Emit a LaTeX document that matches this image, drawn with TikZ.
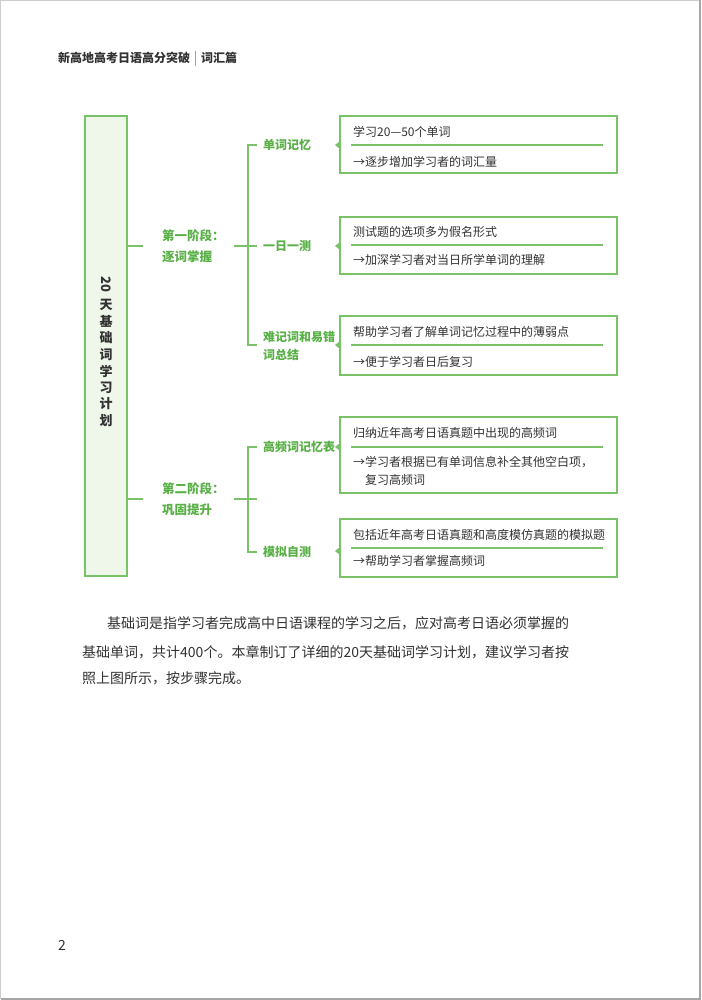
\documentclass[tikz,border=0pt]{standalone}
\usepackage{fontspec}
\setmainfont{Noto Sans CJK SC}
\definecolor{grn}{RGB}{122,194,104}
\definecolor{grntxt}{RGB}{88,176,70}
\definecolor{lightgrn}{RGB}{239,246,234}
\definecolor{txt}{RGB}{50,50,50}
\definecolor{hdr}{RGB}{50,50,50}
\newcommand\myspread[2]{{\XeTeXinterchartokenstate=1
  \XeTeXinterchartoks 0 1={\hskip0pt plus1pt}%
  \XeTeXinterchartoks 1 0={\hskip0pt plus1pt}%
  \XeTeXinterchartoks 1 1={\hskip0pt plus1pt}%
  \XeTeXinterchartoks 1 3={\hskip0pt plus1pt}%
  \XeTeXinterchartoks 3 1={\hskip0pt plus1pt}%
  \XeTeXinterchartoks 3 0={\hskip0pt plus1pt}%
  \XeTeXinterchartoks 0 3={\hskip0pt plus1pt}%
  \hbox to #1{#2}}}
\tikzset{
  conn/.style={draw=grn, line width=1.1pt},
  boxed/.style={draw=grn, line width=1.2pt, minimum width=277pt, inner sep=0pt},
  boxtext/.style={anchor=west, inner sep=0pt, text=txt, font=\fontsize{12}{14}\selectfont},
  leaf/.style={anchor=west, inner sep=0pt, text=grntxt, align=left, font=\bfseries\fontsize{12}{18}\selectfont},
  stage/.style={anchor=west, inner sep=0pt, text=grntxt, align=left, font=\bfseries\fontsize{12.5}{21}\selectfont},
  vchar/.style={inner sep=0pt, text=txt, font=\bfseries\fontsize{13}{13}\selectfont},
  body/.style={anchor=west, inner sep=0pt, text=txt, font=\fontsize{14}{14}\selectfont},
  tri/.style={fill=grn}
}
\begin{document}
\begin{tikzpicture}[x=1pt,y=-1pt]
\useasboundingbox (0,0) rectangle (701,1000);
\fill[white] (0,0) rectangle (701,1000);
% page frame
\draw[color={rgb,255:red,205;green,205;blue,205}, line width=1pt] (0.5,999) -- (0.5,0.5) -- (700,0.5);
\draw[color={rgb,255:red,165;green,165;blue,165}, line width=2pt] (700,0.5) -- (700,999) -- (0.5,999);

% header
\node[anchor=west, inner sep=0pt, text=hdr, font=\bfseries\fontsize{12}{12}\selectfont] (h1) at (58,58) {新高地高考日语高分突破};
\node[anchor=west, inner sep=0pt, text=hdr, font=\bfseries\fontsize{12}{12}\selectfont] (h2) at (201,58) {词汇篇};
\draw[grn, line width=1.2pt] (195.5,51) -- (195.5,66);

% title box
\node[draw=grn, fill=lightgrn, line width=1.2pt, minimum width=42pt, minimum height=460pt, inner sep=0pt] (title) at (106,346) {};
\node[vchar] (v0) at (106,284) {\rotatebox{-90}{20}};
\node[vchar] (v1) at (106,305) {天};
\node[vchar] (v2) at (106,321.5) {基};
\node[vchar] (v3) at (106,338) {础};
\node[vchar] (v4) at (106,354.5) {词};
\node[vchar] (v5) at (106,371) {学};
\node[vchar] (v6) at (106,387.5) {习};
\node[vchar] (v7) at (106,404) {计};
\node[vchar] (v8) at (106,420.5) {划};

% stages
\node[stage] (s1) at (162,246) {第一阶段：\\逐词掌握};
\node[stage] (s2) at (162,499) {第二阶段：\\巩固提升};

% leaf labels
\node[leaf] (l11) at (263,145) {单词记忆};
\node[leaf] (l12) at (263,246) {一日一测};
\node[leaf] (l13) at (263,346) {难记词和易错\\词总结};
\node[leaf] (l21) at (263,447) {高频词记忆表};
\node[leaf] (l22) at (263,552) {模拟自测};
\coordinate (m2) at (257,499);

% connectors from title
\draw[conn] (title.east |- s1.west) -- ([xshift=-19pt]s1.west);
\draw[conn] (title.east |- s2.west) -- ([xshift=-19pt]s2.west);
\draw[conn] ([xshift=9pt]s1.east) -- ([xshift=-6pt]l12.west);
\draw[conn] ([xshift=9pt]s2.east) -- (m2);
% brackets
\draw[conn] ([xshift=-6pt]l11.west) -- (248,145) -- (248,345) -- (257,345);
\draw[conn] ([xshift=-6pt]l21.west) -- (248,447) -- (248,552) -- ([xshift=-6pt]l22.west);

% boxes
\node[boxed, minimum height=57pt] (b1) at (478.5,144.5) {};
\node[boxed, minimum height=57pt] (b2) at (478.5,245.5) {};
\node[boxed, minimum height=59pt] (b3) at (478.5,345.5) {};
\node[boxed, minimum height=76pt] (b4) at (478.5,455) {};
\node[boxed, minimum height=58pt] (b5) at (478.5,548) {};

% separators
\draw[conn] (351,145) -- (603,145);
\draw[conn] (351,245) -- (603,245);
\draw[conn] (351,345) -- (603,345);
\draw[conn] (351,447) -- (603,447);
\draw[conn] (351,548) -- (603,548);

% triangles
\foreach \yy in {145,246,345,447,551}{
  \fill[tri] (339.5,\yy-3.5) -- (335,\yy) -- (339.5,\yy+3.5) -- cycle;
}

% box texts
\node[boxtext] (t11) at (353,132) {学习20—50个单词};
\node[boxtext] (t12) at (353,161.5) {→逐步增加学习者的词汇量};
\node[boxtext] (t21) at (353,232) {测试题的选项多为假名形式};
\node[boxtext] (t22) at (353,260) {→加深学习者对当日所学单词的理解};
\node[boxtext] (t31) at (353,332) {帮助学习者了解单词记忆过程中的薄弱点};
\node[boxtext] (t32) at (353,362) {→便于学习者日后复习};
\node[boxtext] (t41) at (353,433) {归纳近年高考日语真题中出现的高频词};
\node[boxtext] (t42) at (353,462) {→学习者根据已有单词信息补全其他空白项，};
\node[boxtext] (t43) at (365,480) {复习高频词};
\node[boxtext] (t51) at (353,535) {包括近年高考日语真题和高度模仿真题的模拟题};
\node[boxtext] (t52) at (353,561) {→帮助学习者掌握高频词};

% body text
\node[body] (p1) at (107,623) {基础词是指学习者完成高中日语课程的学习之后，应对高考日语必须掌握的};
\node[body] (p2) at (82,652) {\myspread{487pt}{基础单词，共计400个。本章制订了详细的20天基础词学习计划，建议学习者按}};
\node[body] (p3) at (82,678) {照上图所示，按步骤完成。};

% page number
\node[inner sep=0pt, text=txt, font=\fontsize{14}{14}\selectfont] (pn) at (62,945) {2};
\end{tikzpicture}
\end{document}
